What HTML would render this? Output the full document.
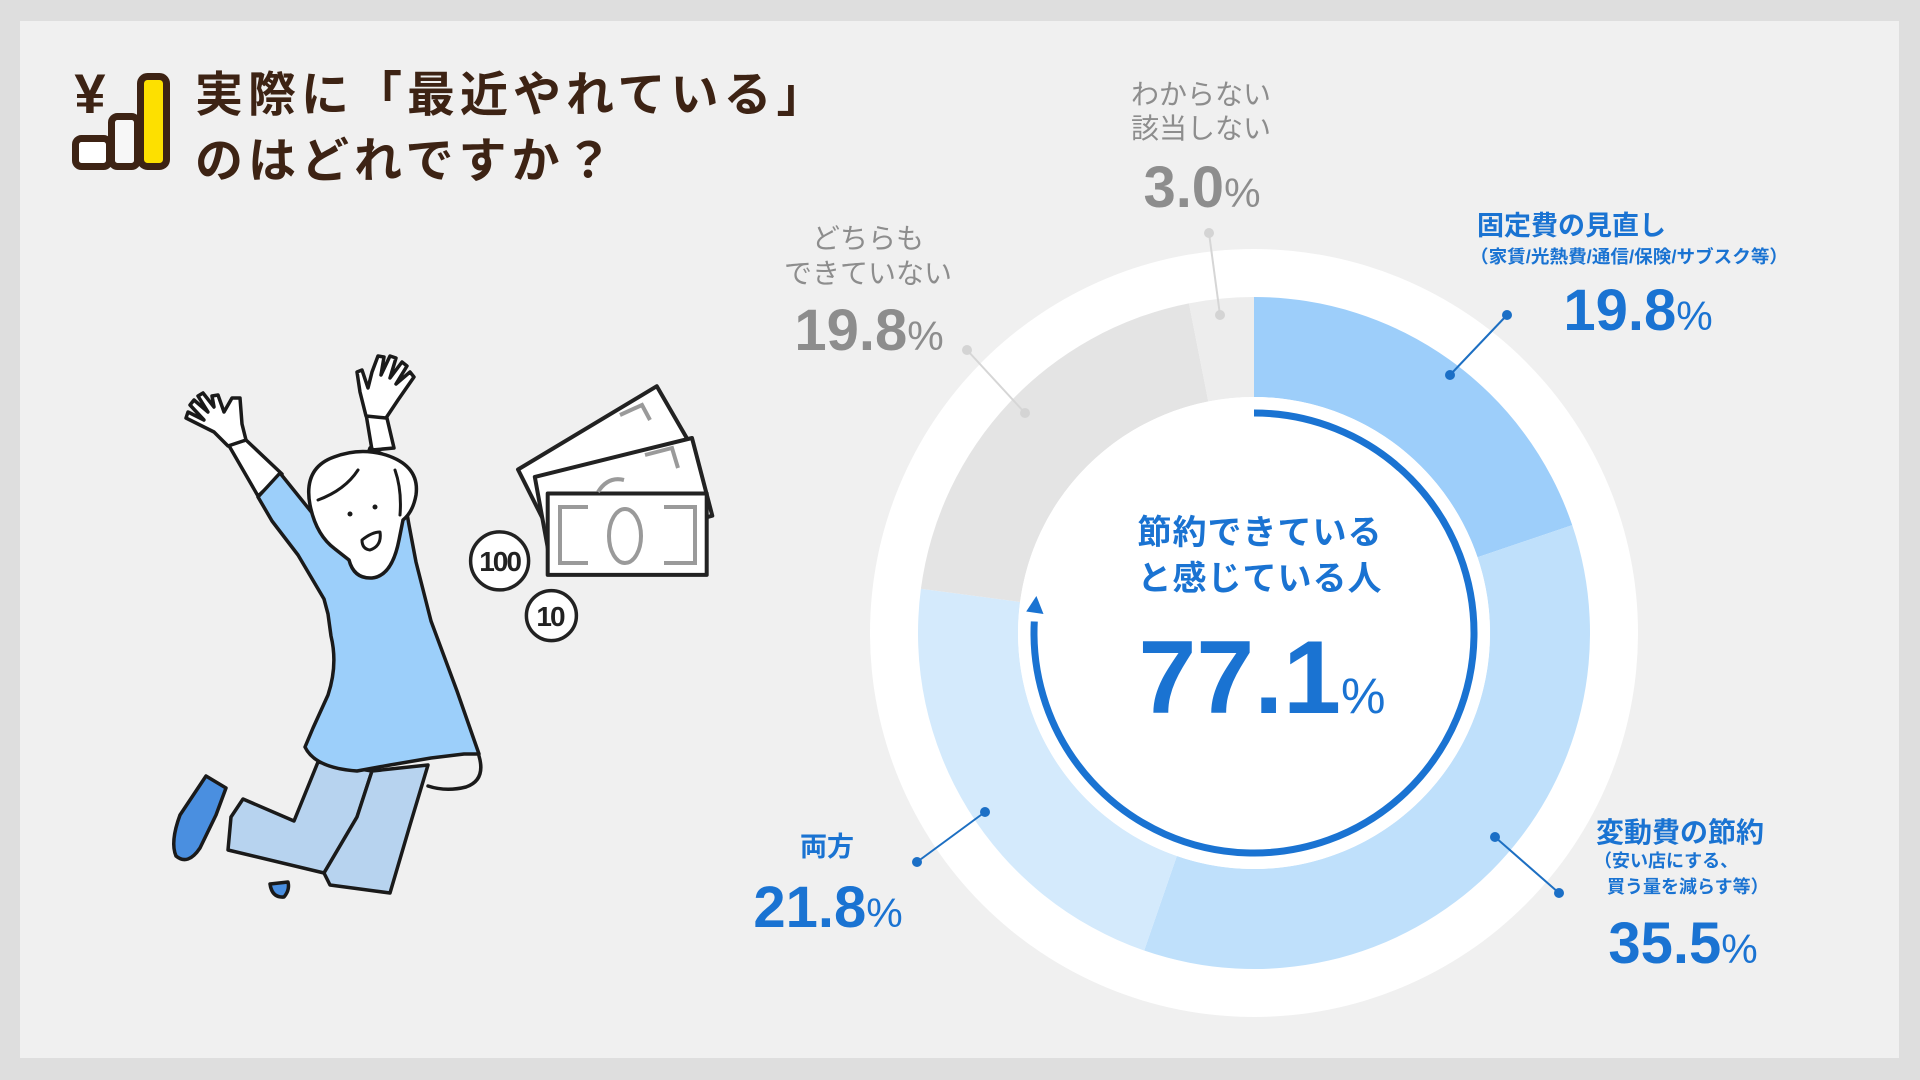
<!DOCTYPE html>
<html lang="ja">
<head>
<meta charset="utf-8">
<style>
  html,body{margin:0;padding:0;}
  body{width:1920px;height:1080px;background:#dedede;position:relative;overflow:hidden;}
  .panel{position:absolute;left:20px;top:21px;width:1879px;height:1037px;background:#f0f0f0;}
  svg{position:absolute;left:0;top:0;}
  text{font-family:"Liberation Sans","Noto Sans CJK JP",sans-serif;}
</style>
</head>
<body>
<div class="panel"></div>
<svg width="1920" height="1080" viewBox="0 0 1920 1080" xmlns="http://www.w3.org/2000/svg">
  <!-- Title icon -->
  <text x="90" y="113" font-size="56" font-weight="700" fill="#3d2314" text-anchor="middle">¥</text>
  <rect x="75.5" y="138.5" width="34" height="28" rx="6" fill="#ffffff" stroke="#3d2314" stroke-width="7"/>
  <rect x="111.5" y="116.5" width="26" height="50" rx="6" fill="#f7f7f7" stroke="#3d2314" stroke-width="7"/>
  <rect x="140.5" y="76.5" width="26" height="90" rx="7" fill="#fde000" stroke="#3d2314" stroke-width="7"/>

  <!-- Title -->
  <text x="195" y="111" font-size="48" font-weight="700" fill="#3d2314" letter-spacing="5">実際に「最近やれている」</text>
  <text x="195" y="177" font-size="48" font-weight="700" fill="#3d2314" letter-spacing="5">のはどれですか？</text>

  <!-- Illustration -->
  <g stroke="#1a1a1a" stroke-width="3.5" stroke-linejoin="round" stroke-linecap="round">
    <path d="M479,756 Q486,780 466,787 Q446,792 428,786" fill="none"/>
    <path d="M318,762 L294,821 L243,799 L231,817 L228,850 L324,873 L357,817 L372,771 Z" fill="#b7d3ef"/>
    <path d="M372,771 L428,765 L410,825 L390,893 L330,885 L324,873 L357,817 Z" fill="#b7d3ef"/>
    <path d="M206,776 L226,788 L216,815 L200,848 Q188,866 176,856 Q170,842 180,815 Z" fill="#4a8fe0"/>
    <path d="M270,884 Q272,898 284,897 Q290,890 288,882 Z" fill="#4a8fe0"/>
    <path d="M228,444 L246,440 L282,474 L258,496 Z" fill="#ffffff"/>
    <path d="M228,446 L214,432 L186,418 L188,412 L204,420 L190,405 L194,400 L208,412 L198,396 L203,393 L214,407 L212,396 L218,395 L224,412 L232,398 L240,398 L242,424 L246,440 Z" fill="#ffffff"/>
    <path d="M366,414 L372,450 L394,448 L386,414 Z" fill="#ffffff"/>
    <path d="M366,416 L360,392 L357,372 L362,370 L368,388 L372,372 L378,356 L384,357 L381,375 L390,356 L396,358 L390,378 L402,362 L407,366 L396,384 L410,372 L414,377 L398,400 L386,418 Z" fill="#ffffff"/>
    <path d="M258,497 L272,521 L298,555 L324,599 L328,614 L331,636 Q338,665 328,695 L313,728 L305,747 Q315,768 357,771 L390,765 L431,758 L464,754 L479,754 L457,691 L431,621 L416,562 L409,525 L398,462 L370,448 L362,470 L357,555 L335,547 L313,514 L280,473 Z" fill="#9ccffa"/>
    <path d="M310,505 Q303,468 334,457 Q360,447 386,455 Q420,466 416,495 Q413,512 403,520 L399,540 Q392,576 372,578 Q354,579 349,560 L335,549 Q316,535 310,505 Z" fill="#ffffff"/>
    <path d="M318,500 Q345,490 358,470" fill="none" stroke-width="3"/>
    <path d="M395,470 Q402,490 400,515" fill="none" stroke-width="3"/>
    <path d="M362,540 Q372,532 380,532 Q382,546 370,550 Q362,549 362,540 Z" fill="#ffffff" stroke-width="3"/>
  </g>
  <circle cx="350" cy="514" r="2.5" fill="#1a1a1a"/>
  <circle cx="375" cy="507" r="2.5" fill="#1a1a1a"/>

  <!-- money -->
  <g stroke="#222" stroke-width="4" stroke-linejoin="round">
    <polygon points="518,469.5 656.8,386.2 690,443.6 545.9,525" fill="#ffffff"/>
    <polygon points="534.8,476.9 692,438 712.3,515.7 550,560" fill="#ffffff"/>
    <rect x="547.7" y="493.5" width="159" height="81.4" fill="#ffffff"/>
  </g>
  <g stroke="#9a9a9a" stroke-width="4" fill="none">
    <path d="M620,415 L642,405 L650,420"/>
    <path d="M645,455 L672,448 L678,468"/>
    <path d="M588,507 L560,507 L560,563 L588,563"/>
    <path d="M664,507 L695,507 L695,563 L664,563"/>
    <ellipse cx="625" cy="536" rx="16" ry="27"/>
    <path d="M598,492 Q608,476 624,480"/>
  </g>
  <circle cx="499.6" cy="560.9" r="29" fill="#ffffff" stroke="#222" stroke-width="3.5"/>
  <text x="499.6" y="571" font-size="28" font-weight="700" fill="#222" text-anchor="middle" letter-spacing="-2">100</text>
  <circle cx="551.4" cy="615.6" r="25" fill="#ffffff" stroke="#222" stroke-width="3.5"/>
  <text x="550" y="626" font-size="28" font-weight="700" fill="#222" text-anchor="middle" letter-spacing="-2">10</text>

  <!-- Donut -->
  <circle cx="1254" cy="633" r="384" fill="#ffffff"/>
  <path d="M1254,297 A336,336 0 0 1 1572.23,525.16 L1477.52,557.26 A236,236 0 0 0 1254,397 Z" fill="#9dcefa"/>
  <path d="M1572.23,525.16 A336,336 0 0 1 1144.17,950.54 L1176.85,856.04 A236,236 0 0 0 1477.52,557.26 Z" fill="#bfe0fb"/>
  <path d="M1144.17,950.54 A336,336 0 0 1 920.92,588.80 L1020.05,601.95 A236,236 0 0 0 1176.85,856.04 Z" fill="#d4eafc"/>
  <path d="M920.92,588.80 A336,336 0 0 1 1188.97,303.35 L1208.32,401.46 A236,236 0 0 0 1020.05,601.95 Z" fill="#e4e4e4"/>
  <path d="M1188.97,303.35 A336,336 0 0 1 1254,297 L1254,397 A236,236 0 0 0 1208.32,401.46 Z" fill="#ededed"/>
  <circle cx="1254" cy="633" r="236" fill="#ffffff"/>

  <path d="M1254,413 A220,220 0 1 1 1034.3,621.5" fill="none" stroke="#1a73d2" stroke-width="7"/>
  <polygon points="1036.4,596 1043.5,614 1026.2,611.5" fill="#1a73d2"/>

  <!-- center text -->
  <text x="1260" y="544" font-size="34" font-weight="700" fill="#1a73d2" text-anchor="middle" letter-spacing="1">節約できている</text>
  <text x="1260" y="590" font-size="34" font-weight="700" fill="#1a73d2" text-anchor="middle" letter-spacing="1">と感じている人</text>
  <text x="1262" y="713" fill="#1a73d2" text-anchor="middle"><tspan font-size="104" font-weight="700">77.1</tspan><tspan font-size="50" font-weight="400">%</tspan></text>

  <!-- leader lines -->
  <g stroke-width="2">
    <line x1="1450" y1="375" x2="1507" y2="315" stroke="#1d6fc2"/>
    <line x1="1495" y1="837" x2="1559" y2="893" stroke="#1d6fc2"/>
    <line x1="917" y1="862" x2="985" y2="812" stroke="#1d6fc2"/>
    <line x1="967" y1="350" x2="1025" y2="413" stroke="#d6d6d6"/>
    <line x1="1209" y1="233" x2="1220" y2="315" stroke="#d6d6d6"/>
  </g>
  <g fill="#1b6fc6">
    <circle cx="1450" cy="375" r="5"/><circle cx="1507" cy="315" r="5"/>
    <circle cx="1495" cy="837" r="5"/><circle cx="1559" cy="893" r="5"/>
    <circle cx="917" cy="862" r="5"/><circle cx="985" cy="812" r="5"/>
  </g>
  <g fill="#d4d4d4">
    <circle cx="967" cy="350" r="5"/><circle cx="1025" cy="413" r="5"/>
    <circle cx="1209" cy="233" r="5"/><circle cx="1220" cy="315" r="5"/>
  </g>

  <!-- gray labels -->
  <text x="1201" y="104" font-size="28" fill="#8d8d8d" text-anchor="middle">わからない</text>
  <text x="1201" y="138" font-size="28" fill="#8d8d8d" text-anchor="middle">該当しない</text>
  <text x="1202" y="207" fill="#8d8d8d" text-anchor="middle"><tspan font-size="58" font-weight="700">3.0</tspan><tspan font-size="41">%</tspan></text>

  <text x="868" y="248" font-size="28" fill="#8d8d8d" text-anchor="middle">どちらも</text>
  <text x="868" y="283" font-size="28" fill="#8d8d8d" text-anchor="middle">できていない</text>
  <text x="869" y="350" fill="#8d8d8d" text-anchor="middle"><tspan font-size="58" font-weight="700">19.8</tspan><tspan font-size="41">%</tspan></text>

  <!-- blue labels -->
  <text x="1477" y="235" font-size="27" font-weight="700" fill="#1a73d2">固定費の見直し</text>
  <text x="1470" y="263" font-size="18" font-weight="700" fill="#1a73d2" textLength="318" lengthAdjust="spacingAndGlyphs">（家賃/光熱費/通信/保険/サブスク等）</text>
  <text x="1638" y="330" fill="#1a73d2" text-anchor="middle"><tspan font-size="58" font-weight="700">19.8</tspan><tspan font-size="41">%</tspan></text>

  <text x="1596" y="842" font-size="28" font-weight="700" fill="#1a73d2">変動費の節約</text>
  <text x="1594" y="867" font-size="18" font-weight="700" fill="#1a73d2">（安い店にする、</text>
  <text x="1607" y="893" font-size="18" font-weight="700" fill="#1a73d2">買う量を減らす等）</text>
  <text x="1683" y="963" fill="#1a73d2" text-anchor="middle"><tspan font-size="58" font-weight="700">35.5</tspan><tspan font-size="41">%</tspan></text>

  <text x="827" y="856" font-size="27" font-weight="700" fill="#1a73d2" text-anchor="middle">両方</text>
  <text x="828" y="927" fill="#1a73d2" text-anchor="middle"><tspan font-size="58" font-weight="700">21.8</tspan><tspan font-size="41">%</tspan></text>
</svg>
</body>
</html>
